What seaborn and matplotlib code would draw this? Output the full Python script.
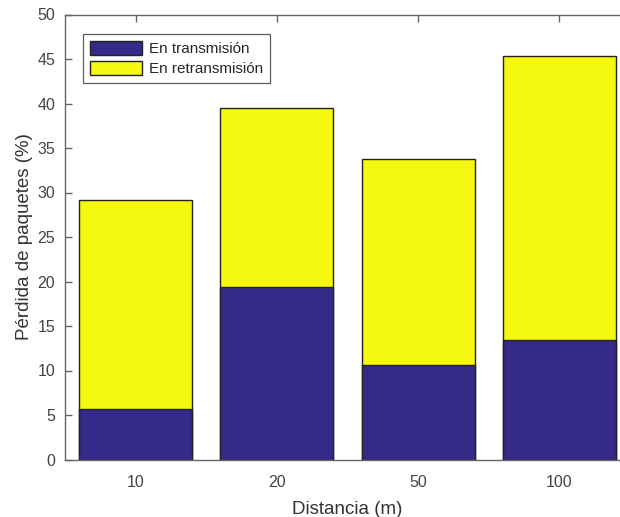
import matplotlib.pyplot as plt
import seaborn as sns
import pandas as pd

# Data
distancias = ['10', '20', '50', '100']
transmision = [5.7, 19.35, 10.6, 13.4]
retransmision = [23.5, 20.15, 23.2, 31.9]

totales = [a + b for a, b in zip(transmision, retransmision)]
df = pd.DataFrame({'dist': distancias, 'tx': transmision, 'total': totales})

sns.set_style('white')
plt.rcParams['font.family'] = ['Liberation Sans', 'DejaVu Sans']

fig = plt.figure(figsize=(6.2, 5.17), dpi=100)
ax = fig.add_axes([65 / 620, (517 - 459.5) / 517, (630 - 65) / 620, 445 / 517])

# stacked bars: total first (yellow), then transmission on top (blue)
sns.barplot(data=df, x='dist', y='total', color='#f5f80f', saturation=1, width=0.8,
            edgecolor='#222222', linewidth=1, ax=ax, label='En retransmisión')
sns.barplot(data=df, x='dist', y='tx', color='#352a87', saturation=1, width=0.8,
            edgecolor='#222222', linewidth=1, ax=ax, label='En transmisión')

ax.set_xlim(-0.5, 3.5)
ax.set_ylim(0, 50)
ax.set_yticks(range(0, 51, 5))
ax.set_xlabel('Distancia (m)', fontsize=13.5, color='#333333', labelpad=8)
ax.set_ylabel('Pérdida de paquetes (%)', fontsize=13.5, color='#333333', labelpad=3)
ax.tick_params(axis='both', labelsize=11.5, colors='#444444', direction='in',
               length=5, width=1, top=True, right=True, bottom=True, left=True, pad=7)
ax.tick_params(axis='both', color='#666666')
ax.tick_params(axis='x', pad=11)
for s in ax.spines.values():
    s.set_color('#666666')
    s.set_linewidth(1)

handles, labels = ax.get_legend_handles_labels()
leg = ax.legend(handles[::-1], labels[::-1], loc='upper left', bbox_to_anchor=(0.032, 0.956),
                fontsize=11, frameon=True, fancybox=False, edgecolor='#333333',
                handlelength=3.4, handleheight=1.05, handletextpad=0.45,
                borderpad=0.45, labelspacing=0.3, borderaxespad=0)
leg.get_frame().set_linewidth(0.9)

plt.savefig('out.png', dpi=100)
